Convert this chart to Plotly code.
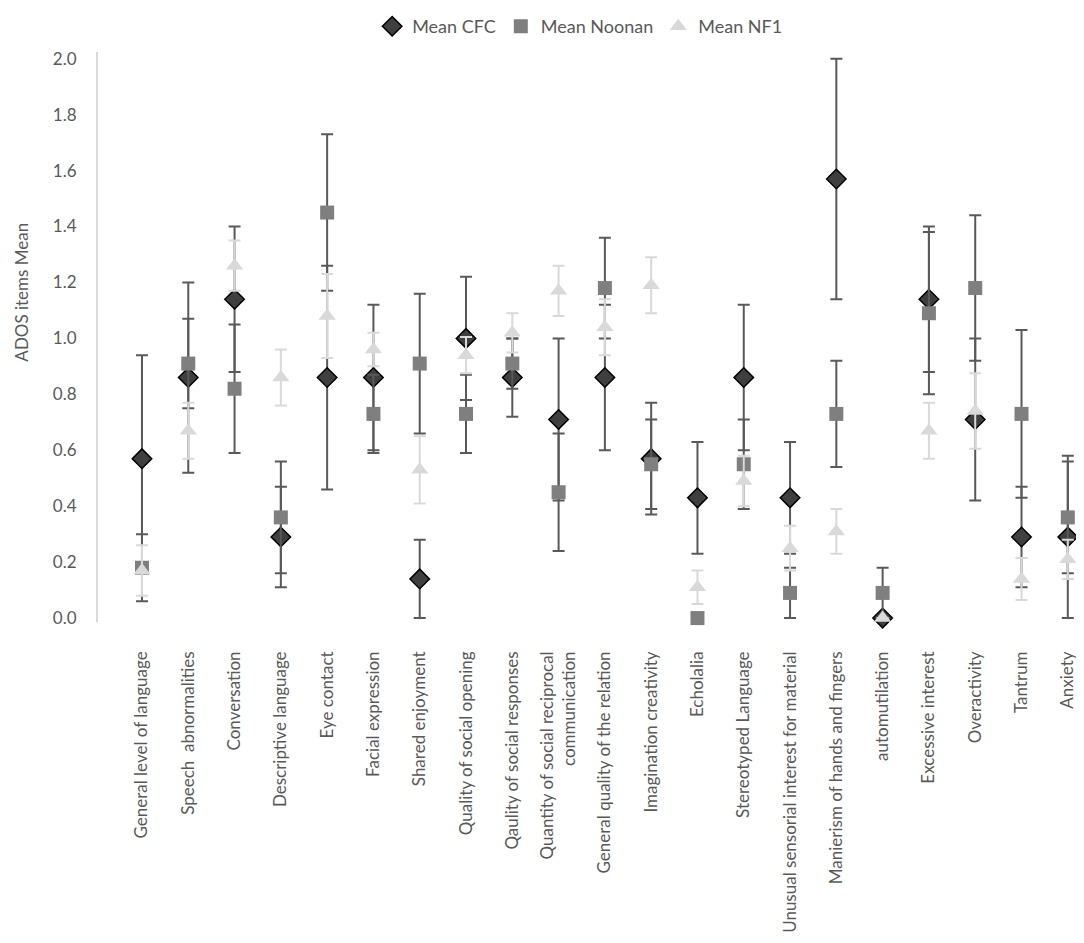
import plotly.graph_objects as go

# ADOS items, three groups, mean with error bars
items = ["General level of language", "Speech  abnormalities", "Conversation",
         "Descriptive language", "Eye contact", "Facial expression",
         "Shared enjoyment", "Quality of social opening", "Qaulity of social responses",
         "Quantity of social reciprocal<br>communication", "General quality of the relation",
         "Imagination creativity", "Echolalia", "Stereotyped Language",
         "Unusual sensorial interest for material", "Manierism of hands and fingers",
         "automutilation", "Excessive interest", "Overactivity", "Tantrum", "Anxiety"]

mean_cfc = [0.57, 0.86, 1.14, 0.29, 0.86, 0.86, 0.14, 1.00, 0.86, 0.71, 0.86,
            0.57, 0.43, 0.86, 0.43, 1.57, 0.00, 1.14, 0.71, 0.29, 0.29]
err_cfc = [0.37, 0.34, 0.26, 0.18, 0.40, 0.26, 0.14, 0.22, 0.14, 0.29, 0.26,
           0.20, 0.20, 0.26, 0.20, 0.43, 0.00, 0.26, 0.29, 0.18, 0.29]

mean_noonan = [0.18, 0.91, 0.82, 0.36, 1.45, 0.73, 0.91, 0.73, 0.91, 0.45, 1.18,
               0.55, 0.00, 0.55, 0.09, 0.73, 0.09, 1.09, 1.18, 0.73, 0.36]
err_noonan = [0.12, 0.16, 0.23, 0.20, 0.28, 0.14, 0.25, 0.14, 0.09, 0.21, 0.18,
              0.16, 0.00, 0.16, 0.09, 0.19, 0.09, 0.29, 0.26, 0.30, 0.20]

mean_nf1 = [0.17, 0.67, 1.26, 0.86, 1.08, 0.96, 0.53, 0.94, 1.02, 1.17, 1.04,
            1.19, 0.11, 0.49, 0.25, 0.31, 0.00, 0.67, 0.74, 0.14, 0.21]
err_nf1 = [0.09, 0.10, 0.09, 0.10, 0.15, 0.06, 0.12, 0.065, 0.07, 0.09, 0.10,
           0.10, 0.06, 0.09, 0.08, 0.08, 0.00, 0.10, 0.135, 0.075, 0.07]

txt = "#595959"
fnt = "Lato"

fig = go.Figure()
fig.add_trace(go.Scatter(
    x=items, y=mean_cfc, mode="markers", name="Mean CFC",
    marker=dict(symbol="diamond", size=15, color="#3f3f3f", line=dict(color="#000000", width=1.5)),
    error_y=dict(type="data", array=err_cfc, color="#595959", thickness=2, width=6),
    cliponaxis=False
))
fig.add_trace(go.Scatter(
    x=items, y=mean_noonan, mode="markers", name="Mean Noonan",
    marker=dict(symbol="square", size=14, color="#7f7f7f", line=dict(width=0)),
    error_y=dict(type="data", array=err_noonan, color="#595959", thickness=2, width=6),
    cliponaxis=False
))
fig.add_trace(go.Scatter(
    x=items, y=mean_nf1, mode="markers", name="Mean NF1",
    marker=dict(symbol="triangle-up", size=15, color="#d9d9d9", line=dict(width=0)),
    error_y=dict(type="data", array=err_nf1, color="#d9d9d9", thickness=2, width=6),
    cliponaxis=False
))

# page body has an 8px margin, so the figure is a bit smaller than the window
fig.update_layout(
    width=1076, height=935,
    margin=dict(l=90, r=0, t=17, b=321),
    paper_bgcolor="white", plot_bgcolor="white",
    font=dict(family=fnt, color=txt, size=15),
    showlegend=True,
    legend=dict(orientation="h", x=0.489, xanchor="center", y=1.045, yanchor="middle",
                font=dict(size=18, color=txt), bgcolor="rgba(0,0,0,0)", itemwidth=30),
    xaxis=dict(type="category", range=[-0.95, 20.35], showgrid=False, zeroline=False,
               showline=False, tickangle=-90, tickfont=dict(size=17, color=txt),
               ticks="", ticklabelstandoff=25),
    yaxis=dict(range=[-0.014, 2.024], dtick=0.2, tick0=0, tickformat=".1f",
               showgrid=False, zeroline=False, showline=True, linecolor="#d9d9d9",
               linewidth=2, ticks="", ticklabelstandoff=16,
               tickfont=dict(size=17, color=txt)),
)

fig.add_annotation(
    text="ADOS items Mean", xref="paper", yref="paper",
    x=-0.078, y=0.578, xanchor="center", yanchor="middle",
    textangle=-90, showarrow=False,
    font=dict(size=17, color=txt)
)

fig.write_html("out.html")
